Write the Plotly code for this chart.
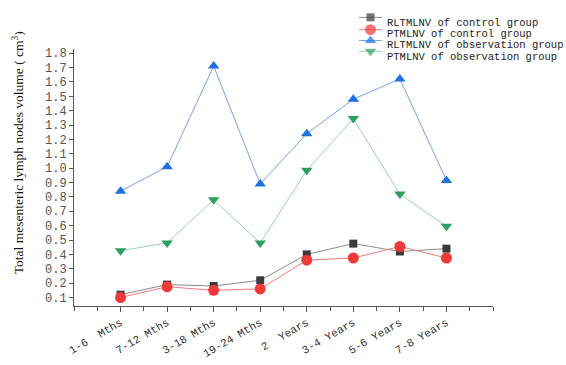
import plotly.graph_objects as go

categories = ["1-6  Mths", "7-12 Mths", "3-18 Mths", "19-24 Mths", "2  Years", "3-4 Years", "5-6 Years", "7-8 Years"]
series_names = ["RLTMLNV of control group", "PTMLNV of control group",
                "RLTMLNV of observation group", "PTMLNV of observation group"]
rl_control = [0.12, 0.19, 0.18, 0.22, 0.40, 0.475, 0.42, 0.44]
pt_control = [0.10, 0.175, 0.15, 0.16, 0.36, 0.375, 0.455, 0.375]
rl_observation = [0.84, 1.01, 1.71, 0.89, 1.24, 1.48, 1.62, 0.915]
pt_observation = [0.425, 0.48, 0.78, 0.48, 0.985, 1.345, 0.82, 0.595]
y_ticks = [round(0.1 * i, 1) for i in range(1, 19)]

series = [rl_control, pt_control, rl_observation, pt_observation]
marker_colors = ["#3a3a3a", "#f03a3a", "#1e6fe0", "#2e9e5e"]
line_colors = ["#8a8a8a", "#f47a7a", "#72a3ea", "#95d3ad"]
symbols = ["square", "circle", "triangle-up", "triangle-down"]
sizes = [8, 11, 10, 10]

W, H = 566, 365
L, R, T, B = 74, 73, 5, 43
plot_top = 50
ydom_top = (H - B - plot_top) / (H - T - B)

fig = go.Figure()
xs = list(range(len(categories)))
for vals, name, mc, lc, sym, sz in zip(series, series_names, marker_colors, line_colors, symbols, sizes):
    fig.add_trace(go.Scatter(
        x=xs, y=vals, name=name, mode="lines+markers",
        line=dict(color=lc, width=1),
        marker=dict(color=mc, symbol=sym, size=sz, line=dict(width=0)),
        cliponaxis=False, showlegend=False))

# custom legend drawn on a hidden separate axis pair (pixel coordinates)
leg_line_y = [16, 29, 40.5, 52]
leg_text_y = [22, 33.5, 45.5, 57.5]
annotations = []
for i, (name, mc, lc, sym, sz) in enumerate(zip(series_names, marker_colors, line_colors, symbols, sizes)):
    fig.add_trace(go.Scatter(
        x=[359, 370.5, 382], y=[leg_line_y[i]] * 3, mode="lines+markers",
        line=dict(color=lc, width=1),
        marker=dict(color=mc, symbol=sym, size=[0, sz, 0], line=dict(width=0)),
        xaxis="x2", yaxis="y2", showlegend=False, cliponaxis=False, hoverinfo="skip"))
    annotations.append(dict(
        x=385, y=leg_text_y[i], xref="x2", yref="y2", text=name, showarrow=False,
        xanchor="left", yanchor="middle",
        font=dict(family="Liberation Mono", size=10.5, color="#222")))

annotations.append(dict(
    x=(18 - L) / (W - L - R), y=(H - B - 160) / (H - T - B), xref="paper", yref="paper",
    text="Total mesenteric lymph nodes volume ( cm<sup>3</sup>)", textangle=-90,
    showarrow=False, xanchor="center", yanchor="middle",
    font=dict(family="Liberation Serif", size=13.5, color="#111")))

fig.update_layout(
    width=W, height=H, margin=dict(l=L, r=R, t=T, b=B),
    paper_bgcolor="white", plot_bgcolor="rgba(0,0,0,0)",
    showlegend=False,
    xaxis=dict(
        range=[-1, 8], tickmode="array", tickvals=xs,
        ticktext=categories, tickangle=-30,
        ticks="outside", ticklen=5, tickcolor="#555", showline=True, linecolor="#555",
        linewidth=1, showgrid=False, zeroline=False,
        tickfont=dict(family="Liberation Mono", size=11, color="#333"),
        minor=dict(tickvals=[-1, 8] + [i + 0.5 for i in range(-1, 8)], ticks="outside",
                   ticklen=4, tickcolor="#555"),
        domain=[0, 1], anchor="y"),
    yaxis=dict(
        range=[0.041, 1.826], tickmode="array", tickvals=y_ticks,
        ticktext=[f"{v:.1f}" for v in y_ticks],
        ticks="outside", ticklen=4, tickcolor="#555", showline=True, linecolor="#555",
        linewidth=1, showgrid=False, zeroline=False,
        tickfont=dict(family="Liberation Mono", size=12, color="#555"),
        domain=[0, ydom_top], anchor="x"),
    xaxis2=dict(range=[L, W - R], domain=[0, 1], visible=False, anchor="y2", fixedrange=True),
    yaxis2=dict(range=[H - B, T], domain=[0, 1], visible=False, anchor="x2", fixedrange=True),
    annotations=annotations,
)

fig.write_html("out.html")
